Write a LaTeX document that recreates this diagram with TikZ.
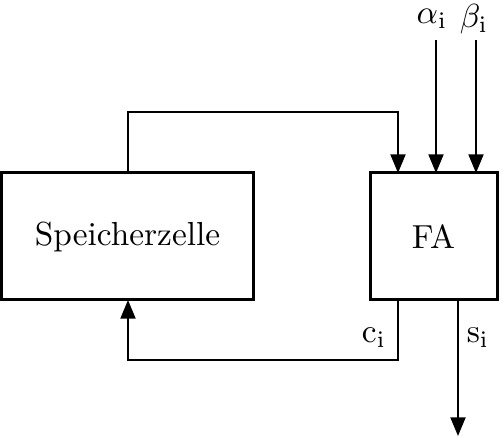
\documentclass[tikz,border=0pt]{standalone}
\usetikzlibrary{arrows.meta}
\begin{document}
\begin{tikzpicture}[x=0.3pt,y=-0.3pt,
  blockbox/.style={draw,line width=0.9pt,inner sep=0pt},
  conn/.style={line width=0.6pt},
  arr/.style={conn,-{Triangle[width=4.5pt,length=5.6pt]}},
  lbl/.style={inner sep=0pt}]
\useasboundingbox (0,0) rectangle (501,437);
\node[blockbox,minimum width=251*0.3pt,minimum height=127*0.3pt] (sz) at (127.5,236.5) {Speicherzelle};
\node[blockbox,minimum width=127*0.3pt,minimum height=127*0.3pt] (fa) at (433.5,236.5) {FA};
\coordinate (fain1) at (398,173);
\coordinate (fain2) at (436,173);
\coordinate (fain3) at (476,173);
\coordinate (faout1) at (398,300);
\coordinate (faout2) at (458,300);
\coordinate (szin) at (128,300);
\coordinate (szout) at (128,173);
\coordinate (ain) at (436,40);
\coordinate (bin) at (476,40);
\coordinate (sout) at (458,436);
\node[lbl] (al) at (432,19) {$\alpha_{\mathrm{i}}$};
\node[lbl] (be) at (474,19) {$\beta_{\mathrm{i}}$};
\node[lbl] (cl) at (374,338) {c$_{\mathrm{i}}$};
\node[lbl] (sl) at (478,338) {s$_{\mathrm{i}}$};
\draw[arr] (szout) |- (398,112) -- (fain1);
\draw[arr] (ain) -- (fain2);
\draw[arr] (bin) -- (fain3);
\draw[arr] (faout1) |- (128,360) -- (szin);
\draw[arr] (faout2) -- (sout);
\end{tikzpicture}
\end{document}
